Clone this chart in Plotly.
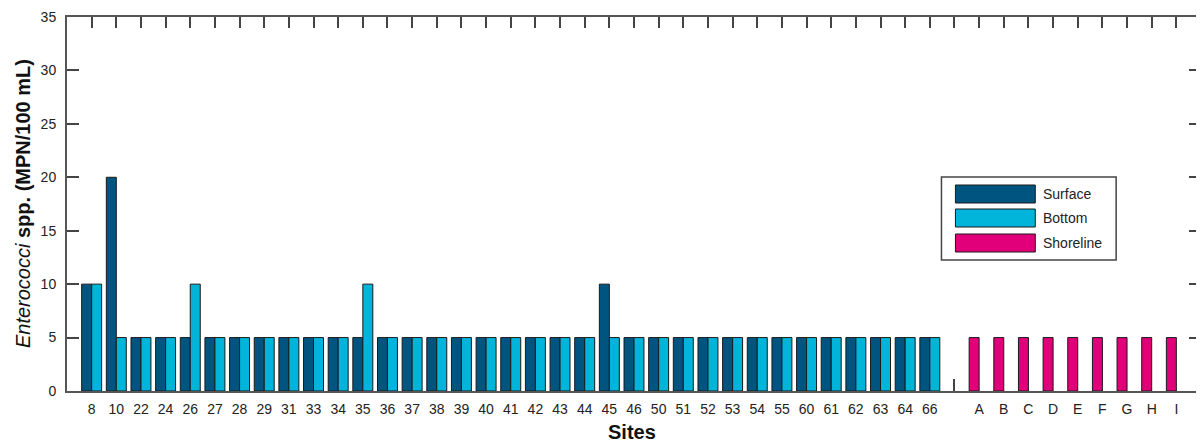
import plotly.graph_objects as go

# ---- data ----
sites = ["8", "10", "22", "24", "26", "27", "28", "29", "31", "33", "34", "35", "36", "37",
         "38", "39", "40", "41", "42", "43", "44", "45", "46", "50", "51", "52", "53", "54",
         "55", "60", "61", "62", "63", "64", "66"]
surface = [10, 20, 5, 5, 5, 5, 5, 5, 5, 5, 5, 5, 5, 5,
           5, 5, 5, 5, 5, 5, 5, 10, 5, 5, 5, 5, 5, 5,
           5, 5, 5, 5, 5, 5, 5]
bottom = [10, 5, 5, 5, 10, 5, 5, 5, 5, 5, 5, 10, 5, 5,
          5, 5, 5, 5, 5, 5, 5, 5, 5, 5, 5, 5, 5, 5,
          5, 5, 5, 5, 5, 5, 5]
gap_label = " "
shore_sites = ["A", "B", "C", "D", "E", "F", "G", "H", "I"]
shoreline = [5, 5, 5, 5, 5, 5, 5, 5, 5]

categories = sites + [gap_label] + shore_sites
y_ticks = [0, 5, 10, 15, 20, 25, 30, 35]

C_SURF = "#005580"
C_BOT = "#00B4DA"
C_SHORE = "#E2007A"
OUTLINE = "#1a1a1a"
AX = "#555"
FONT = "Liberation Sans, Arial, sans-serif"

OFF = 8  # page body margin
W, H = 1196, 435
ML, MR, MT, MB = 59, 1, 9, 52
PW, PH = W - ML - MR, H - MT - MB

BW = 0.405

fig = go.Figure()
fig.add_trace(go.Bar(x=sites, y=surface, name="Surface", marker=dict(color=C_SURF, line=dict(color=OUTLINE, width=1)),
                     width=BW, offset=-BW, showlegend=False))
fig.add_trace(go.Bar(x=sites, y=bottom, name="Bottom", marker=dict(color=C_BOT, line=dict(color=OUTLINE, width=1)),
                     width=BW, offset=0, showlegend=False))
fig.add_trace(go.Bar(x=shore_sites, y=shoreline, name="Shoreline", marker=dict(color=C_SHORE, line=dict(color=OUTLINE, width=1)),
                     width=BW, offset=-BW, showlegend=False))

n = len(categories)
xr = [-1, n]
fig.add_trace(go.Scatter(x=[0], y=[0], mode="none", xaxis="x2", showlegend=False, hoverinfo="skip"))
fig.add_trace(go.Scatter(x=[0], y=[0], mode="none", xaxis="x3", showlegend=False, hoverinfo="skip"))

fig.update_layout(
    width=W, height=H,
    margin=dict(l=ML, r=MR, t=MT, b=MB),
    plot_bgcolor="white", paper_bgcolor="white",
    barmode="overlay",
    font=dict(family=FONT, size=14, color="#333"),
    xaxis=dict(type="category", categoryorder="array", categoryarray=categories, range=xr,
               showline=True, linecolor=AX, linewidth=2, mirror=True, ticks="",
               showgrid=False, zeroline=False, tickfont=dict(size=14, color="#222"),
               ticklabelstandoff=4),
    xaxis2=dict(overlaying="x", side="top", type="linear", range=xr,
                tickvals=list(range(n)), ticks="inside", ticklen=11, tickcolor="#444", tickwidth=1.5,
                showticklabels=False, showline=False, showgrid=False, zeroline=False),
    xaxis3=dict(overlaying="x", side="bottom", type="linear", range=xr,
                tickvals=[categories.index(gap_label)], ticks="inside", ticklen=12, tickcolor="#444", tickwidth=1.5,
                showticklabels=False, showline=False, showgrid=False, zeroline=False),
    yaxis=dict(range=[0, 35], tickvals=y_ticks, ticks="inside", ticklen=12, tickcolor="#444", tickwidth=1.5,
               showline=True, linecolor=AX, linewidth=2, mirror="ticks",
               showgrid=False, zeroline=False, tickfont=dict(size=14, color="#222"),
               ticklabelstandoff=6),
)

def px2x(px):
    return (px - OFF - ML) / PW

def py2y(py):
    return (MT + PH - (py - OFF)) / PH

annotations = [
    dict(text="<i>Enterococci</i> <b>spp. (MPN/100 mL)</b>", textangle=-90, xref="paper", yref="paper",
         x=px2x(23), y=py2y(204), showarrow=False, xanchor="center", yanchor="middle",
         font=dict(size=20, color="#111", family=FONT)),
    dict(text="<b>Sites</b>", xref="paper", yref="paper", x=px2x(633), y=py2y(432),
         showarrow=False, xanchor="center", yanchor="middle", font=dict(size=20, color="#111", family=FONT)),
]
shapes = [dict(type="rect", xref="paper", yref="paper", x0=px2x(943), x1=px2x(1118), y0=py2y(260), y1=py2y(177),
               line=dict(color="#444", width=1.5), fillcolor="white", layer="above")]
legend_items = [("Surface", C_SURF, 185, 203), ("Bottom", C_BOT, 209, 227), ("Shoreline", C_SHORE, 234, 252)]
for name, col, t, b in legend_items:
    shapes.append(dict(type="rect", xref="paper", yref="paper", x0=px2x(957), x1=px2x(1037),
                       y0=py2y(b), y1=py2y(t), line=dict(color=OUTLINE, width=1), fillcolor=col, layer="above"))
    annotations.append(dict(text=name, xref="paper", yref="paper", x=px2x(1043), y=py2y((t + b) / 2),
                            showarrow=False, xanchor="left", yanchor="middle",
                            font=dict(size=14, color="#222", family=FONT)))
fig.update_layout(annotations=annotations, shapes=shapes)

fig.write_html("out.html")
